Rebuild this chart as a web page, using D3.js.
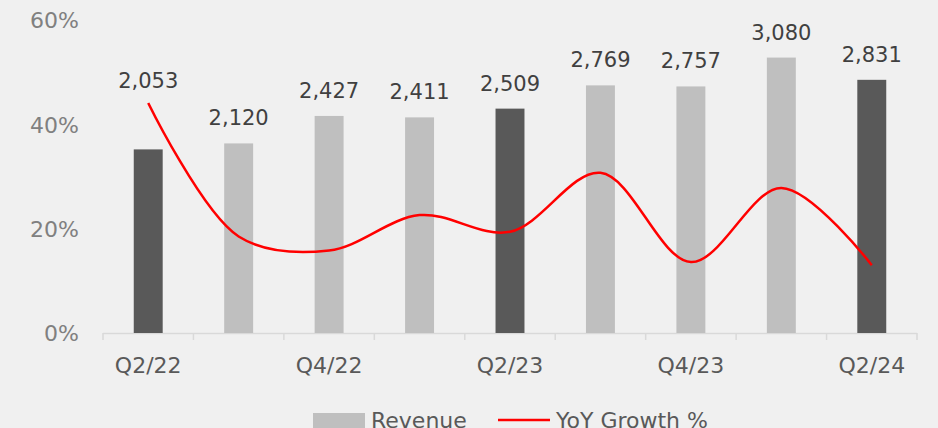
<!DOCTYPE html>
<html><head><meta charset="utf-8">
<script src="https://cdn.jsdelivr.net/npm/d3@7"></script>
<style>html,body{margin:0;padding:0;background:#f0f0f0;}svg{display:block;}</style>
</head><body>
<script>
const categories = ["Q2/22","Q3/22","Q4/22","Q1/23","Q2/23","Q3/23","Q4/23","Q1/24","Q2/24"];
const revenue = [2053,2120,2427,2411,2509,2769,2757,3080,2831];
const growth = [44.1,18.5,15.8,22.6,19.4,30.7,13.6,27.8,13.0];
const highlighted = ["Q2/22","Q2/23","Q2/24"];
const shownTicks = ["Q2/22","Q4/22","Q2/23","Q4/23","Q2/24"];
const pctTicks = [0,20,40,60];

const W=938,H=428;
const svg=d3.select("body").append("svg").attr("width",W).attr("height",H);
svg.append("rect").attr("width",W).attr("height",H).attr("fill","#f0f0f0");
const font="'DejaVu Sans', Verdana, sans-serif";
const x0=103,x1=917,yB=333,yT=20;
const x=d3.scaleBand().domain(categories).range([x0,x1]).paddingInner(0.68).paddingOuter(0.34);
const xc=d=>x(d)+x.bandwidth()/2;
const yP=d3.scaleLinear().domain([0,60]).range([yB,yT]);
const yR=d3.scaleLinear().domain([0,3500]).range([yB,yT]);

// y axis labels
const yAx=svg.append("g").attr("transform",`translate(79,0)`)
 .call(d3.axisLeft(yP).tickValues(pctTicks).tickFormat(d=>d+"%").tickSize(0).tickPadding(0));
yAx.select(".domain").remove();
yAx.selectAll("text").attr("font-family",font).attr("font-size",22).attr("fill","#808080").attr("dy","0.36em");

// x axis
const step=(x1-x0)/categories.length;
const bounds=d3.range(categories.length+1).map(i=>x0+i*step);
svg.append("line").attr("x1",x0).attr("x2",x1).attr("y1",yB+0.5).attr("y2",yB+0.5).attr("stroke","#d9d9d9").attr("stroke-width",1.5);
svg.selectAll(".tk").data(bounds).join("line").attr("x1",d=>d).attr("x2",d=>d).attr("y1",yB).attr("y2",yB+7).attr("stroke","#d9d9d9").attr("stroke-width",1.5);
svg.selectAll(".xl").data(shownTicks).join("text").attr("x",d=>xc(d)).attr("y",373)
 .attr("text-anchor","middle").attr("font-family",font).attr("font-size",22).attr("fill","#595959").text(d=>d);

// bars
const data=categories.map((c,i)=>({c,r:revenue[i],g:growth[i]}));
svg.selectAll(".bar").data(data).join("rect").attr("x",d=>x(d.c)).attr("width",x.bandwidth())
 .attr("y",d=>yR(d.r)).attr("height",d=>yB-yR(d.r))
 .attr("fill",d=>highlighted.includes(d.c)?"#595959":"#bfbfbf");

// line
const line=d3.line().x(d=>xc(d.c)).y(d=>yP(d.g)).curve(d3.curveCatmullRom.alpha(0.5));
svg.append("path").datum(data).attr("d",line).attr("fill","none").attr("stroke","#ff0000").attr("stroke-width",2.5);

// labels
svg.selectAll(".vl").data(data).join("text").attr("x",d=>xc(d.c))
 .attr("y",d=>Math.min(yR(d.r)-18,yP(d.g)-15))
 .attr("text-anchor","middle").attr("font-family",font).attr("font-size",21).attr("fill","#404040")
 .text(d=>d3.format(",")(d.r));

// legend
svg.append("rect").attr("x",313).attr("y",413).attr("width",52).attr("height",16).attr("fill","#bfbfbf");
svg.append("text").attr("x",371).attr("y",428).attr("font-family",font).attr("font-size",22).attr("fill","#595959").text("Revenue");
svg.append("line").attr("x1",498).attr("x2",550).attr("y1",420).attr("y2",420).attr("stroke","#ff0000").attr("stroke-width",2.5);
svg.append("text").attr("x",556).attr("y",428).attr("font-family",font).attr("font-size",22).attr("fill","#595959").text("YoY Growth %");
</script>
</body></html>
